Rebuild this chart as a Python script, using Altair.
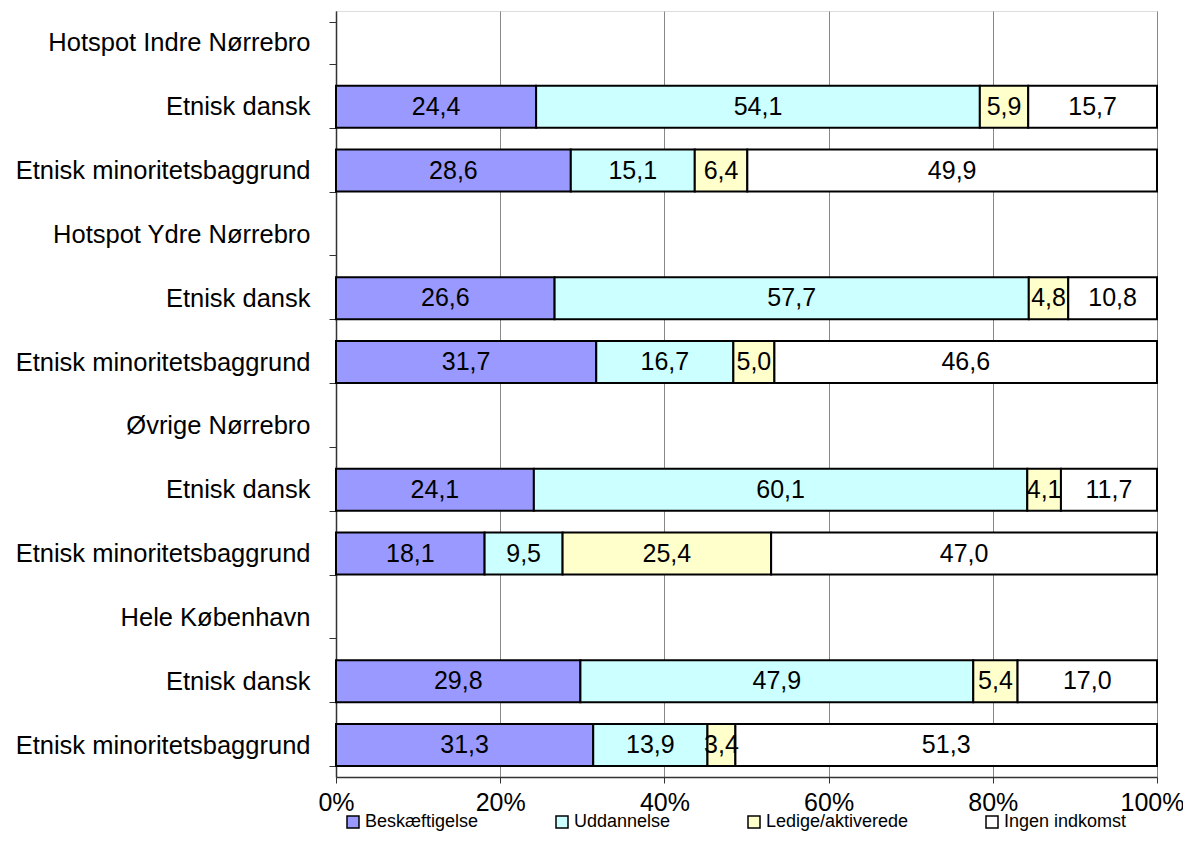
import json
import altair as alt
import pandas as pd

groups = ["Hotspot Indre Nørrebro", "Hotspot Ydre Nørrebro", "Øvrige Nørrebro", "Hele København"]
subgroups = ["Etnisk dansk", "Etnisk minoritetsbaggrund"]
categories = ["Beskæftigelse", "Uddannelse", "Ledige/aktiverede", "Ingen indkomst"]
colors = ["#9999FF", "#CCFFFF", "#FFFFCC", "#FFFFFF"]

# order: for each group -> dansk, minoritet
beskaeftigelse = [24.4, 28.6, 26.6, 31.7, 24.1, 18.1, 29.8, 31.3]
uddannelse = [54.1, 15.1, 57.7, 16.7, 60.1, 9.5, 47.9, 13.9]
ledige = [5.9, 6.4, 4.8, 5.0, 4.1, 25.4, 5.4, 3.4]
ingen = [15.7, 49.9, 10.8, 46.6, 11.7, 47.0, 17.0, 51.3]
series = [beskaeftigelse, uddannelse, ledige, ingen]

row_labels = []
row_ids = []
records = []
k = 0
for gi, g in enumerate(groups):
    row_ids.append(str(len(row_labels)))
    row_labels.append(g)
    for si, s in enumerate(subgroups):
        rid = str(len(row_labels))
        row_ids.append(rid)
        row_labels.append(s)
        for ci, c in enumerate(categories):
            v = series[ci][k]
            records.append({"row": rid, "cat": c, "order": ci, "value": v,
                            "label": f"{v:.1f}".replace(".", ",")})
        k += 1

df = pd.DataFrame(records)
FONT = "Liberation Sans"

ylab_expr = json.dumps(row_labels, ensure_ascii=False) + "[toNumber(datum.value)]"

base = alt.Chart(df).transform_stack(
    stack="value", groupby=["row"], as_=["v0", "v1"], offset="normalize",
    sort=[alt.SortField("order", order="ascending")]
).transform_calculate(mid="(datum.v0 + datum.v1) / 2")

yenc = alt.Y("row:N", scale=alt.Scale(domain=row_ids, paddingInner=0.342, paddingOuter=0.171),
             sort=None,
             axis=alt.Axis(title=None, labelExpr=ylab_expr, tickBand="extent", tickSize=7,
                           labelPadding=19, labelFontSize=25.5, labelFont=FONT, labelColor="black",
                           domainColor="#333333", tickColor="#333333", domainWidth=1.5, labelLimit=400))

bars = base.mark_bar(stroke="black", strokeWidth=2).encode(
    x=alt.X("v0:Q", scale=alt.Scale(domain=[0, 1], nice=False),
            axis=alt.Axis(title=None, values=[0, 0.2, 0.4, 0.6, 0.8, 1.0], format=".0%",
                          grid=True, gridColor="#888888", gridWidth=1, tickSize=6,
                          labelFlush=False, labelOverlap=False,
                          labelOffset={"condition": {"test": "datum.value >= 1", "value": -5}, "value": 0},
                          labelPadding=7, labelFontSize=25, labelFont=FONT, labelColor="black",
                          domainColor="#333333", tickColor="#333333", domainWidth=1.5)),
    x2="v1:Q",
    y=yenc,
    color=alt.Color("cat:N", scale=alt.Scale(domain=categories, range=colors),
                    legend=alt.Legend(title=None, orient="none", legendX=8, legendY=802,
                                      direction="horizontal", columns=4, columnPadding=74,
                                      symbolType="square", symbolSize=144,
                                      symbolStrokeColor="black", symbolStrokeWidth=1.5,
                                      labelFontSize=18, labelFont=FONT, labelColor="black",
                                      labelOffset=3, labelLimit=400)),
)

texts = base.mark_text(fontSize=25, font=FONT, color="black").encode(
    x="mid:Q",
    y=alt.Y("row:N", sort=None),
    text="label:N",
)

chart = alt.layer(bars, texts).properties(
    width=821, height=766,
    autosize=alt.AutoSizeParams(type="none"),
    padding={"left": 328, "top": 3, "right": 26, "bottom": 55},
).configure_view(stroke="#888888", strokeWidth=1.5).configure(background="white")

chart.save("out.html", embed_options={"renderer": "svg", "actions": False})
